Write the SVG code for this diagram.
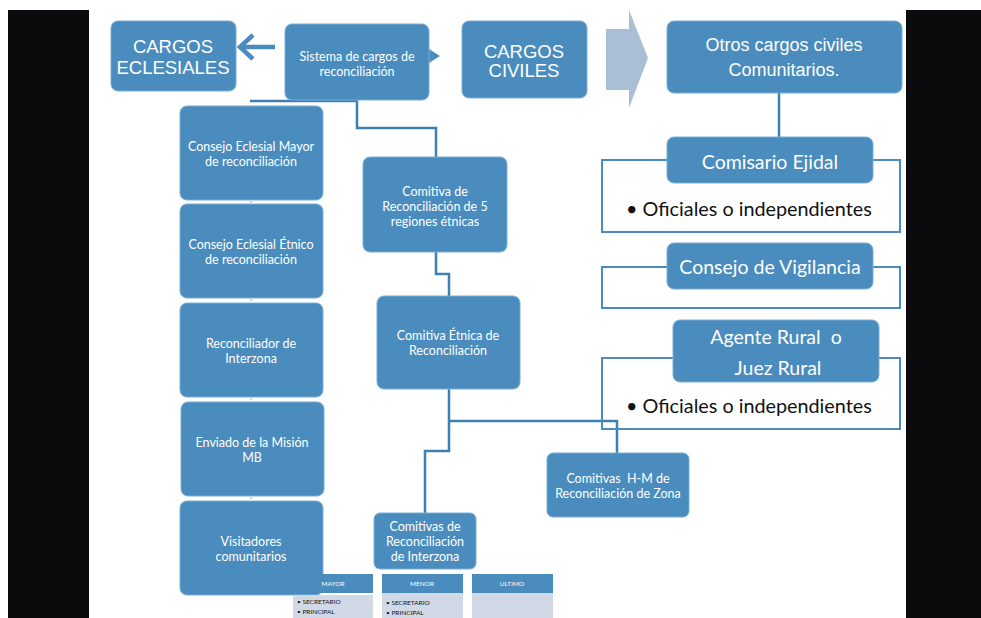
<svg xmlns="http://www.w3.org/2000/svg" width="981" height="618" viewBox="0 0 981 618">
<defs>
<style>
.box{fill:#4a8cbe;stroke:#7aaed6;stroke-width:1}
.t{font-family:Lato,"Open Sans","Noto Sans",sans-serif;fill:#ffffff;text-anchor:middle;white-space:pre}
.a{font-family:"Liberation Sans",Arial,sans-serif;fill:#ffffff;text-anchor:middle}
.s{font-size:12.5px}
.big{font-size:19.5px}
.blk{font-family:Lato,"Open Sans","Noto Sans",sans-serif;fill:#111111;font-size:19.8px}
.con{fill:none;stroke:#3f7fb2;stroke-width:2.5}
.brk{fill:none;stroke:#4a8cbe;stroke-width:2}
.hd{fill:#4a8cbe}
.bd{fill:#d0d9e5}
.ht{font-family:Lato,"Open Sans",sans-serif;font-size:6.5px;fill:#ffffff;text-anchor:middle}
.bt{font-family:Lato,"Open Sans",sans-serif;font-size:6.5px;fill:#111111}
</style>
</defs>
<rect x="0" y="0" width="981" height="618" fill="#ffffff"/>
<rect x="8" y="10" width="81" height="608" fill="#0b0a0c"/>
<rect x="906" y="10" width="75" height="608" fill="#0b0a0c"/>

<g id="connectors">
<path class="con" d="M250,101 H357 V128 H436 V157"/>
<path class="con" d="M436,252 V274 H449 V296"/>
<path class="con" d="M449,389 V451 H425 V513"/>
<path class="con" d="M449,421 H617 V453"/>
<path class="con" d="M779,93 V137"/>
<g stroke="#9aa8b8" stroke-width="1">
<line x1="251" y1="201" x2="251" y2="203"/>
<line x1="251" y1="299" x2="251" y2="301"/>
<line x1="251" y1="398" x2="251" y2="400"/>
<line x1="251" y1="497" x2="251" y2="499"/>
</g>
<path d="M275,47 H242" fill="none" stroke="#4a8cbe" stroke-width="4.5"/>
<polyline points="253,35 240,47 253,59" fill="none" stroke="#4a8cbe" stroke-width="4.5"/>
<polygon points="429,49 440,56 429,63" fill="#4a8cbe"/>
<polygon points="606,29 629,29 629,10 648,58 629,108 629,90 606,90" fill="#aabfd5"/>
</g>

<g id="cargos-eclesiales">
<rect class="box" x="111" y="21" width="125" height="70" rx="7"/>
<text class="a" font-size="18.5" x="173" y="53">CARGOS</text>
<text class="a" font-size="18.5" x="173" y="74">ECLESIALES</text>
</g>
<g id="sistema">
<rect class="box" x="285" y="24" width="144" height="76" rx="7"/>
<text class="t s" x="357" y="61">Sistema de cargos de</text>
<text class="t s" x="357" y="76">reconciliación</text>
</g>
<g id="cargos-civiles">
<rect class="box" x="462" y="21" width="125" height="77" rx="7"/>
<text class="a" font-size="18.5" x="524" y="58">CARGOS</text>
<text class="a" font-size="18.5" x="524" y="77">CIVILES</text>
</g>
<g id="otros">
<rect class="box" x="667" y="21" width="235" height="72" rx="7"/>
<text class="a" font-size="18" x="784" y="51">Otros cargos civiles</text>
<text class="a" font-size="18" x="784" y="76">Comunitarios.</text>
</g>

<g id="consejo-mayor">
<rect class="box" x="180" y="106" width="143" height="94" rx="7"/>
<text class="t s" x="251" y="151">Consejo Eclesial Mayor</text>
<text class="t s" x="251" y="166">de reconciliación</text>
</g>
<g id="consejo-etnico">
<rect class="box" x="180" y="204" width="143" height="94" rx="7"/>
<text class="t s" x="251" y="249">Consejo Eclesial Étnico</text>
<text class="t s" x="251" y="264">de reconciliación</text>
</g>
<g id="reconciliador">
<rect class="box" x="180" y="303" width="143" height="94" rx="7"/>
<text class="t s" x="251" y="348">Reconciliador de</text>
<text class="t s" x="251" y="363">Interzona</text>
</g>
<g id="enviado">
<rect class="box" x="181" y="402" width="143" height="94" rx="7"/>
<text class="t s" x="252" y="447">Enviado de la Misión</text>
<text class="t s" x="252" y="462">MB</text>
</g>
<g id="visitadores">
<rect class="box" x="180" y="501" width="143" height="94" rx="7"/>
<text class="t s" x="251" y="546">Visitadores</text>
<text class="t s" x="251" y="561">comunitarios</text>
</g>

<g id="tables">
<rect class="hd" x="293" y="574" width="80" height="19"/>
<rect class="bd" x="293" y="595" width="80" height="23"/>
<text class="ht" x="333" y="586">MAYOR</text>
<text class="bt" x="297" y="604">• SECRETARIO</text>
<text class="bt" x="297" y="614">• PRINCIPAL</text>
<rect class="hd" x="382" y="574" width="81" height="19"/>
<rect class="bd" x="382" y="593" width="81" height="25"/>
<text class="ht" x="422" y="586">MENOR</text>
<text class="bt" x="386" y="605">• SECRETARIO</text>
<text class="bt" x="386" y="615">• PRINCIPAL</text>
<rect class="hd" x="472" y="574" width="81" height="19"/>
<rect class="bd" x="472" y="593" width="81" height="25"/>
<text class="ht" x="512" y="586">ULTIMO</text>
</g>

<g id="comitiva-5">
<rect class="box" x="363" y="157" width="144" height="95" rx="7"/>
<text class="t s" x="435" y="196">Comitiva de</text>
<text class="t s" x="435" y="211">Reconciliación de 5</text>
<text class="t s" x="435" y="226">regiones étnicas</text>
</g>
<g id="comitiva-etnica">
<rect class="box" x="377" y="296" width="143" height="93" rx="7"/>
<text class="t s" x="448" y="340">Comitiva Étnica de</text>
<text class="t s" x="448" y="355">Reconciliación</text>
</g>
<g id="comitivas-interzona">
<rect class="box" x="374" y="513" width="102" height="56" rx="6"/>
<text class="t s" x="425" y="531">Comitivas de</text>
<text class="t s" x="425" y="546">Reconciliación</text>
<text class="t s" x="425" y="561">de Interzona</text>
</g>
<g id="comitivas-hm">
<rect class="box" x="547" y="453" width="142" height="64" rx="6"/>
<text class="t s" x="618" y="483">Comitivas  H-M de</text>
<text class="t s" x="618" y="498">Reconciliación de Zona</text>
</g>

<g id="comisario">
<path class="brk" d="M667,160 H602 V232 H900 V160 H873"/>
<rect class="box" x="667" y="137" width="206" height="46" rx="7"/>
<text class="t big" x="770" y="169">Comisario Ejidal</text>
<text class="blk" x="626" y="216">• Oficiales o independientes</text>
</g>
<g id="vigilancia">
<path class="brk" d="M667,267 H602 V308 H900 V267 H873"/>
<rect class="box" x="667" y="243" width="206" height="46" rx="7"/>
<text class="t big" x="770" y="274">Consejo de Vigilancia</text>
</g>
<g id="agente">
<path class="brk" d="M673,358 H602 V429 H900 V358 H879"/>
<rect class="box" x="673" y="320" width="206" height="62" rx="7"/>
<text class="t big" x="776" y="344">Agente Rural  o</text>
<text class="t big" x="778" y="375">Juez Rural</text>
<text class="blk" x="626" y="413">• Oficiales o independientes</text>
</g>
</svg>
